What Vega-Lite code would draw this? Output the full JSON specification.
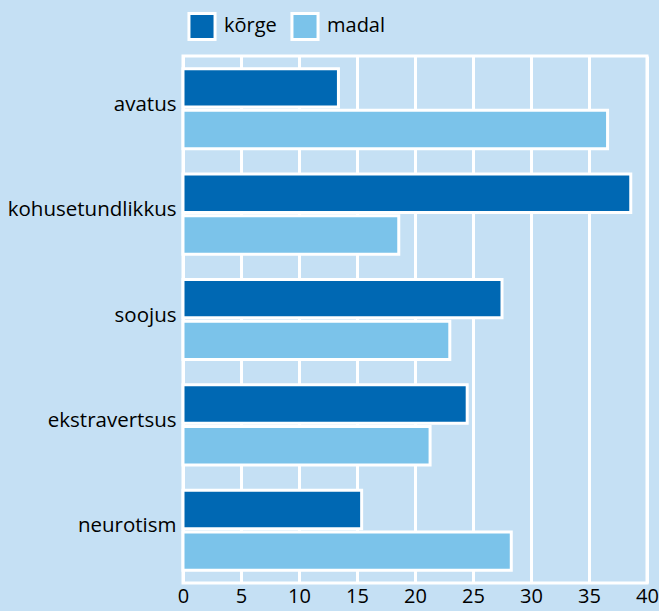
{
  "$schema": "https://vega.github.io/schema/vega-lite/v6.json",
  "width": 464,
  "height": 527,
  "autosize": {"type": "none"},
  "padding": {"left": 183, "top": 56, "right": 12, "bottom": 28},
  "background": "#c5e0f4",
  "config": {
    "view": {"stroke": "white", "strokeWidth": 3, "fill": "#c5e0f4"},
    "font": "Open Sans"
  },
  "data": {
    "values": [
      {"trait": "avatus", "group": "kõrge", "value": 13.4},
      {"trait": "avatus", "group": "madal", "value": 36.6},
      {"trait": "kohusetundlikkus", "group": "kõrge", "value": 38.6},
      {"trait": "kohusetundlikkus", "group": "madal", "value": 18.6},
      {"trait": "soojus", "group": "kõrge", "value": 27.5},
      {"trait": "soojus", "group": "madal", "value": 23.0},
      {"trait": "ekstravertsus", "group": "kõrge", "value": 24.5},
      {"trait": "ekstravertsus", "group": "madal", "value": 21.3},
      {"trait": "neurotism", "group": "kõrge", "value": 15.4},
      {"trait": "neurotism", "group": "madal", "value": 28.3}
    ]
  },
  "mark": {"type": "bar", "stroke": "white", "strokeWidth": 3},
  "encoding": {
    "y": {
      "field": "trait",
      "type": "nominal",
      "sort": ["avatus", "kohusetundlikkus", "soojus", "ekstravertsus", "neurotism"],
      "scale": {"paddingInner": 0.24, "paddingOuter": 0.12},
      "axis": {
        "title": null,
        "ticks": false,
        "domain": false,
        "labelFontSize": 20.5,
        "labelColor": "black",
        "labelPadding": 7,
        "labelOffset": -4,
        "labelLimit": 300
      }
    },
    "yOffset": {
      "field": "group",
      "type": "nominal",
      "scale": {"paddingInner": 0.08}
    },
    "x": {
      "field": "value",
      "type": "quantitative",
      "scale": {"domain": [0, 40], "nice": false},
      "axis": {
        "title": null,
        "values": [0, 5, 10, 15, 20, 25, 30, 35, 40],
        "ticks": false,
        "domain": false,
        "grid": true,
        "gridColor": "white",
        "gridWidth": 3,
        "gridOpacity": 1,
        "labelFontSize": 20,
        "labelColor": "black",
        "labelPadding": 3,
        "labelFlush": false
      }
    },
    "color": {
      "field": "group",
      "type": "nominal",
      "scale": {"domain": ["kõrge", "madal"], "range": ["#0068b3", "#7bc3ea"]},
      "legend": {
        "title": null,
        "orient": "none",
        "legendX": 4,
        "legendY": -45,
        "direction": "horizontal",
        "symbolType": "square",
        "symbolSize": 680,
        "symbolStrokeColor": "white",
        "symbolStrokeWidth": 3,
        "symbolOpacity": 1,
        "labelFontSize": 20,
        "labelColor": "black",
        "labelOffset": 7,
        "columnPadding": 8
      }
    }
  }
}
